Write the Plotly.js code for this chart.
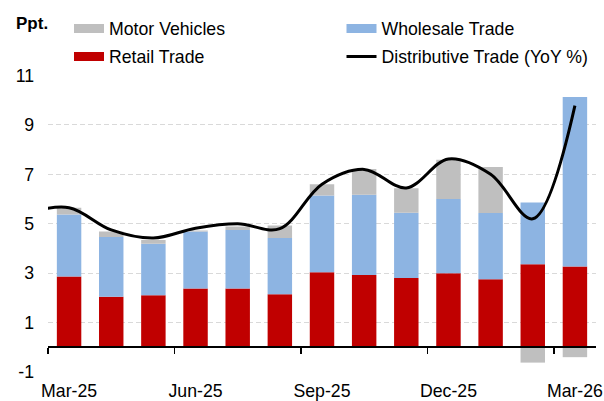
<!DOCTYPE html>
<html>
<head>
<meta charset="utf-8">
<script src="https://cdn.plot.ly/plotly-3.0.1.min.js"></script>
<style>html,body{margin:0;padding:0;background:#fff;}#chart{width:604px;height:401px;}</style>
</head>
<body>
<div id="chart"></div>
<script>
// Months on the axis (line starts one month earlier, clipped at the left edge)
var lineMonths = ['Feb-25','Mar-25','Apr-25','May-25','Jun-25','Jul-25','Aug-25','Sep-25','Oct-25','Nov-25','Dec-25','Jan-26','Feb-26','Mar-26'];
var barMonths  = ['Mar-25','Apr-25','May-25','Jun-25','Jul-25','Aug-25','Sep-25','Oct-25','Nov-25','Dec-25','Jan-26','Feb-26','Mar-26'];

// Contributions, ppt.
var retailTrade    = [2.87, 2.05, 2.11, 2.38, 2.38, 2.15, 3.04, 2.93, 2.80, 3.00, 2.75, 3.36, 3.27];
var wholesaleTrade = [2.50, 2.41, 2.08, 2.31, 2.37, 2.27, 3.10, 3.24, 2.65, 3.00, 2.69, 2.50, 6.86];
var motorVehicles  = [0.28, 0.23, 0.15, 0.04, 0.14, 0.51, 0.46, 1.05, 0.99, 1.59, 1.86, -0.62, -0.40];

// Distributive trade, YoY %
var distributiveTrade = [5.45, 5.65, 4.75, 4.42, 4.82, 5.00, 4.80, 6.60, 7.20, 6.45, 7.62, 7.00, 5.20, 9.78];

// Axis labels
var tickLabels = ['Mar-25','Jun-25','Sep-25','Dec-25','Mar-26'];
var yTickValues = [-1, 1, 3, 5, 7, 9, 11];
var yTickLabels = ['-1', '1', '3', '5', '7', '9', '11'];

var barX = barMonths.map(function(m){ return lineMonths.indexOf(m); });
var lineX = lineMonths.map(function(m, i){ return i; });
var labelPos = tickLabels.map(function(m){ return lineMonths.indexOf(m); });
var boundaryPos = labelPos.map(function(p){ return p - 0.5; });

var FONT = '"Liberation Sans", Arial, sans-serif';
var C_MOTOR = '#bfbfbf', C_WHOLE = '#8db4e2', C_RETAIL = '#c00000';
var XRANGE = [0.5, 13.5];

var traces = [
  {type:'bar', x:barX, y:retailTrade, name:'Retail Trade', marker:{color:C_RETAIL}, showlegend:false, hoverinfo:'y'},
  {type:'bar', x:barX, y:wholesaleTrade, name:'Wholesale Trade', marker:{color:C_WHOLE}, showlegend:false, hoverinfo:'y'},
  {type:'bar', x:barX, y:motorVehicles, name:'Motor Vehicles', marker:{color:C_MOTOR}, showlegend:false, hoverinfo:'y'},
  {type:'scatter', mode:'lines', x:lineX, y:distributiveTrade, name:'Distributive Trade (YoY %)', xaxis:'x2',
   line:{color:'#000', width:3, shape:'spline', smoothing:1}, legend:'legend4'},
  // legend swatches
  {type:'scatter', mode:'lines', x:[null], y:[null], name:'Motor Vehicles', line:{color:C_MOTOR, width:9}, legend:'legend'},
  {type:'scatter', mode:'lines', x:[null], y:[null], name:'Wholesale Trade', line:{color:C_WHOLE, width:9}, legend:'legend2'},
  {type:'scatter', mode:'lines', x:[null], y:[null], name:'Retail Trade', line:{color:C_RETAIL, width:9}, legend:'legend3'}
];

function lg(xpx, ypx){
  return {xref:'container', yref:'container', x:xpx/604, y:1 - ypx/401, xanchor:'left', yanchor:'middle',
          orientation:'h', bgcolor:'rgba(0,0,0,0)', borderwidth:0,
          font:{family:FONT, size:17.7, color:'#000'}};
}

var layout = {
  width:604, height:401,
  margin:{l:48, r:8, t:69, b:29, pad:0},
  paper_bgcolor:'#fff', plot_bgcolor:'#fff',
  barmode:'relative', bargap:0.42,
  font:{family:FONT, size:17.7, color:'#000'},
  xaxis:{
    type:'linear', range:XRANGE,
    tickmode:'array', tickvals:labelPos, ticktext:tickLabels,
    ticks:'', ticklabelstandoff:6,
    showline:false, showgrid:false, zeroline:false,
    tickfont:{family:FONT, size:17.7, color:'#000'}
  },
  xaxis2:{
    type:'linear', range:XRANGE, overlaying:'x', anchor:'free', position:1/12,
    tickmode:'array', tickvals:boundaryPos, showticklabels:false,
    ticks:'outside', ticklen:6, tickwidth:1.5, tickcolor:'#000',
    showline:true, linecolor:'#000', linewidth:2,
    showgrid:false, zeroline:false
  },
  yaxis:{
    range:[-1, 11], tickmode:'array', tickvals:yTickValues, ticktext:yTickLabels,
    ticks:'', showline:false, zeroline:false,
    showgrid:true, gridcolor:'#d9d9d9', gridwidth:1, griddash:'5px,3px',
    ticklabelstandoff:13,
    tickfont:{family:FONT, size:17.7, color:'#000'}
  },
  legend:lg(69, 29),
  legend2:lg(341.5, 29),
  legend3:lg(69, 57),
  legend4:lg(341.5, 57),
  annotations:[{
    xref:'paper', yref:'paper', x:(14-48)/548, y:1 + (69-16)/303, xanchor:'left', yanchor:'middle',
    text:'<b>Ppt.</b>', showarrow:false, font:{family:FONT, size:17, color:'#000'}
  }],
  showlegend:true
};

Plotly.newPlot('chart', traces, layout, {staticPlot:true, displayModeBar:false});
</script>
</body>
</html>
